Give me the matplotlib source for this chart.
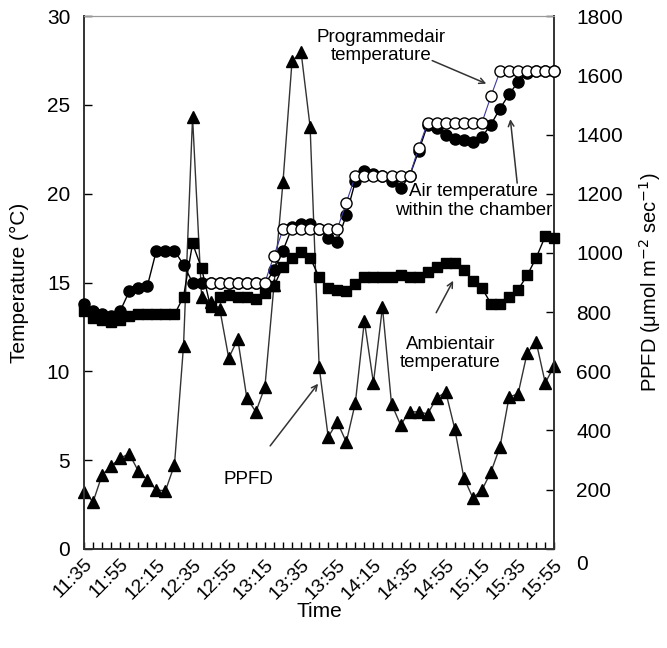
import matplotlib
matplotlib.use("Agg")
import matplotlib.pyplot as plt
import matplotlib.transforms as mtransforms
import numpy as np
from matplotlib.ticker import MultipleLocator

plt.rcParams["font.family"] = ["Liberation Sans", "DejaVu Sans"]

# minutes after 11:35, one reading every 5 min
minutes = np.arange(0, 265, 5)
tick_labels = ["11:35", "11:55", "12:15", "12:35", "12:55", "13:15", "13:35",
               "13:55", "14:15", "14:35", "14:55", "15:15", "15:35", "15:55"]

ppfd = [193, 159, 250, 280, 307, 321, 263, 233, 199, 196, 284, 686, 1459,
        851, 835, 812, 645, 709, 510, 463, 547, 890, 1240, 1648, 1679, 1426,
        615, 378, 429, 361, 493, 770, 561, 817, 490, 419, 463, 463, 456,
        510, 530, 405, 240, 172, 199, 260, 345, 513, 524, 662, 699, 561, 618]

ambient = [13.4, 13.0, 12.9, 12.8, 12.9, 13.1, 13.2, 13.2, 13.2, 13.2, 13.2,
           14.2, 17.2, 15.8, 13.6, 14.2, 14.3, 14.2, 14.2, 14.1, 14.4, 14.8,
           15.9, 16.4, 16.7, 16.4, 15.3, 14.7, 14.6, 14.5, 14.9, 15.3, 15.3,
           15.3, 15.3, 15.4, 15.3, 15.3, 15.6, 15.9, 16.1, 16.1, 15.7, 15.1,
           14.7, 13.8, 13.8, 14.2, 14.6, 15.4, 16.4, 17.6, 17.5]

chamber = [13.8, 13.4, 13.2, 13.1, 13.4, 14.5, 14.7, 14.8, 16.8, 16.8, 16.8,
           16.0, 15.0, 15.0, 15.0, 15.0, 15.0, 15.0, 15.0, 15.0, 14.9, 15.7,
           16.8, 18.1, 18.3, 18.3, 18.0, 17.5, 17.3, 18.8, 20.7, 21.3, 21.1,
           21.0, 20.7, 20.3, 21.0, 22.4, 23.9, 23.7, 23.3, 23.1, 23.0, 22.9,
           23.2, 23.9, 24.8, 25.6, 26.3, 26.8, 26.9, 26.9, 26.9]

programmed = [np.nan] * 14 + [15.0, 15.0, 15.0, 15.0, 15.0, 15.0, 15.0, 16.5,
              18.0, 18.0, 18.0, 18.0, 18.0, 18.0, 18.0, 19.5,
              21.0, 21.0, 21.0, 21.0, 21.0, 21.0, 21.0, 22.6,
              24.0, 24.0, 24.0, 24.0, 24.0, 24.0, 24.0, 25.5,
              26.9, 26.9, 26.9, 26.9, 26.9, 26.9, 26.9]

fig = plt.figure(figsize=(6.67, 6.48), dpi=100)
ax = fig.add_axes([0.126, 0.153, 0.705, 0.822])
ax2 = ax.twinx()
ax.set_zorder(ax2.get_zorder() + 1)
ax.patch.set_visible(False)

ax2.plot(minutes, ppfd, color="#333333", lw=1.0, marker="^", ms=8.5,
         mfc="black", mec="black", clip_on=False)
ax.plot(minutes, ambient, color="black", lw=1.0, marker="s", ms=7.5,
        mfc="black", mec="black", clip_on=False, zorder=3)
ax.plot(minutes, chamber, color="black", lw=1.0, marker="o", ms=8,
        mfc="black", mec="black", clip_on=False, zorder=4)
ax.plot(minutes, programmed, color="#3a3aa0", lw=0.8, marker="o", ms=8,
        mfc="white", mec="black", mew=1.0, clip_on=False, zorder=5)

ax.set_xlim(0, 260)
ax.set_ylim(0, 30)
ax2.set_ylim(0, 1800)
ax.set_yticks(np.arange(0, 31, 5))
ax2.set_yticks(np.arange(0, 1801, 200))
ax.set_xticks(np.arange(0, 261, 20))
ax.set_xticklabels(tick_labels, rotation=45, ha="right", rotation_mode="anchor")
ax.xaxis.set_minor_locator(MultipleLocator(5))

ax.tick_params(axis="x", which="both", direction="in", length=5, width=1,
               labelsize=14, pad=5)
ax.tick_params(axis="y", direction="in", length=6, width=1, labelsize=15, pad=10)
ax2.tick_params(axis="y", direction="in", length=6, width=1, labelsize=15, pad=16)

# the right-hand zero sits a little below the axis in the original
zero_label = ax2.get_yticklabels()[0]
zero_label.set_transform(zero_label.get_transform() +
                         mtransforms.ScaledTranslation(0, -0.14, fig.dpi_scale_trans))

for a in (ax, ax2):
    for side in ("left", "right", "bottom"):
        a.spines[side].set_color("#333333")
        a.spines[side].set_linewidth(1.2)
    a.spines["top"].set_color("#999999")

ax.set_xlabel("Time", fontsize=15, labelpad=0)
ax.set_ylabel("Temperature (\u00b0C)", fontsize=15, labelpad=13)
ax2.set_ylabel("PPFD (\u03bcmol m$^{-2}$ sec$^{-1}$)", fontsize=14.5, labelpad=10)

arrow = dict(arrowstyle="->", color="#333333", lw=1.1, shrinkA=0, shrinkB=0)
txt = dict(fontsize=13.5, ha="center", va="center", linespacing=1.1, zorder=6)

ax.text(164.3, 28.3, "Programmedair\ntemperature", **txt)
ax.annotate("", xy=(222.4, 26.2), xytext=(192.5, 27.5), arrowprops=arrow)

ax.text(215.2, 19.6, "Air temperature\nwithin the chamber", **txt)
ax.annotate("", xy=(235.7, 24.2), xytext=(239.5, 20.6), arrowprops=arrow)

ax.text(202.5, 11.0, "Ambientair\ntemperature", **txt)
ax.annotate("", xy=(204.1, 15.1), xytext=(194.7, 13.3), arrowprops=arrow)

ax.text(90.7, 3.9, "PPFD", **txt)
ax.annotate("", xy=(129.4, 9.3), xytext=(102.9, 5.8), arrowprops=arrow)

fig.savefig("out.png", dpi=100)
